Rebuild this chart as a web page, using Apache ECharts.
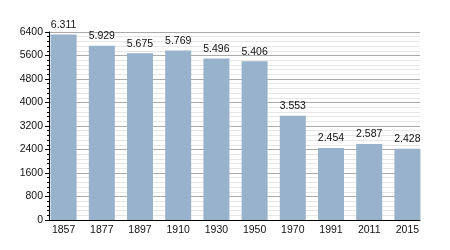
<!DOCTYPE html>
<html>
<head>
<meta charset="utf-8">
<script src="https://cdn.jsdelivr.net/npm/echarts@6/dist/echarts.min.js"></script>
<style>html,body{margin:0;padding:0;background:#fff;}#c{width:450px;height:250px;}</style>
</head>
<body>
<div id="c"></div>
<script>
const years = ['1857','1877','1897','1910','1930','1950','1970','1991','2011','2015'];
const population = [6311, 5929, 5675, 5769, 5496, 5406, 3553, 2454, 2587, 2428];
const yTicks = [0, 800, 1600, 2400, 3200, 4000, 4800, 5600, 6400];

const font = 'Liberation Sans, Arial, sans-serif';
const chart = echarts.init(document.getElementById('c'), null, {renderer: 'canvas'});
const yMin = yTicks[0], yMax = yTicks[yTicks.length - 1], yStep = yTicks[1] - yTicks[0];
chart.setOption({
  animation: false,
  backgroundColor: '#fff',
  grid: [
    {left: 49, top: 32, width: 371, height: 188},
    {left: 44.5, top: 32, width: 382, height: 188}
  ],
  xAxis: [
    {gridIndex: 0, type: 'category', data: years, boundaryGap: true,
     axisLine: {show: true, onZero: false, lineStyle: {color: '#000', width: 1}},
     axisTick: {show: false}, axisLabel: {show: false}, splitLine: {show: false}},
    {gridIndex: 1, type: 'category', data: years,
     axisLine: {show: false}, axisTick: {show: false},
     axisLabel: {show: true, color: '#111', fontSize: 10.5, fontFamily: font, margin: 5}}
  ],
  yAxis: [
    {gridIndex: 0, type: 'value', min: yMin, max: yMax, interval: yStep,
     axisLine: {show: true, lineStyle: {color: '#000', width: 1}},
     axisTick: {show: true, inside: false, length: 4, lineStyle: {color: '#000'}},
     minorTick: {show: true, splitNumber: 5, length: 2, lineStyle: {color: '#000'}},
     axisLabel: {color: '#111', fontSize: 10.5, fontFamily: font, margin: 6,
       formatter: v => String(v)},
     splitLine: {show: true, lineStyle: {color: '#aaaaaa', width: 1}},
     minorSplitLine: {show: true, lineStyle: {color: '#e6e6e6', width: 1}}},
    {gridIndex: 1, type: 'value', min: yMin, max: yMax, interval: yStep, show: false,
     splitLine: {show: false}}
  ],
  series: [{
    type: 'bar', xAxisIndex: 1, yAxisIndex: 1,
    data: population, barWidth: 26,
    itemStyle: {color: '#98b2cc'},
    label: {show: true, position: 'top', distance: 4, color: '#111', fontSize: 10.5, fontFamily: font,
      formatter: p => (p.value / 1000).toFixed(3)}
  }]
});
</script>
</body>
</html>
